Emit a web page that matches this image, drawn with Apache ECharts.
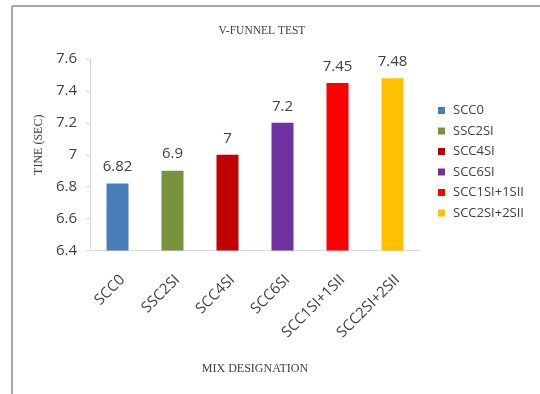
<!DOCTYPE html>
<html>
<head>
<meta charset="utf-8">
<script src="https://cdn.jsdelivr.net/npm/echarts@6/dist/echarts.min.js"></script>
<style>
  html, body { margin: 0; padding: 0; background: #fff; }
  #chart { width: 540px; height: 394px; }
</style>
</head>
<body>
<div id="chart"></div>
<script>
// V-funnel flow times per mix
const categories = ['SCC0', 'SSC2SI', 'SCC4SI', 'SCC6SI', 'SCC1SI+1SII', 'SCC2SI+2SII'];
const times = [6.82, 6.9, 7, 7.2, 7.45, 7.48];
const barColors = ['#4a7ebb', '#77933c', '#c00000', '#7030a0', '#ff0000', '#ffc000'];
const yTicks = { min: 6.4, max: 7.6, step: 0.2 };

const sansFont = '"Open Sans", "Liberation Sans", sans-serif';
const serifFont = '"Liberation Serif", "DejaVu Serif", serif';

// one series per mix so each gets its own legend entry; stacked so bars stay centred
const series = categories.map((name, i) => ({
  name: name,
  type: 'bar',
  stack: 'mix',
  barWidth: '40%',
  itemStyle: { color: barColors[i] },
  label: {
    show: true,
    position: 'top',
    distance: 9,
    color: '#404040',
    fontFamily: sansFont,
    fontSize: 15,
    formatter: p => String(p.value)
  },
  data: categories.map((c, j) => (j === i ? times[i] : null))
}));

const chart = echarts.init(document.getElementById('chart'));
chart.setOption({
  animation: false,
  backgroundColor: '#fff',
  title: {
    text: 'V-FUNNEL TEST',
    left: 257,
    top: 20,
    textAlign: 'center',
    textStyle: { fontFamily: serifFont, fontSize: 11.5, fontWeight: 'normal', color: '#404040' }
  },
  legend: {
    orient: 'vertical',
    left: 433,
    top: 99,
    itemWidth: 7,
    itemHeight: 7,
    itemGap: 7.5,
    icon: 'rect',
    textStyle: { fontFamily: sansFont, fontSize: 13, color: '#404040', padding: [0, 0, 0, 3] },
    data: categories
  },
  grid: { left: 90, right: 120, top: 59, bottom: 143.5, containLabel: false },
  xAxis: {
    type: 'category',
    data: categories,
    name: 'MIX DESIGNATION',
    nameLocation: 'middle',
    nameGap: 112,
    nameTextStyle: { fontFamily: serifFont, fontSize: 12, color: '#404040' },
    axisLine: { lineStyle: { color: '#d9d9d9', width: 1 } },
    axisTick: { show: false },
    axisLabel: {
      rotate: 45,
      margin: 22,
      fontFamily: sansFont,
      fontSize: 15,
      color: '#404040',
      interval: 0,
      // extra top room nudges the rotated text down-right off the axis
      formatter: v => '{l|' + v + '}',
      rich: { l: { fontFamily: sansFont, fontSize: 15, color: '#404040', padding: [14, 0, 0, 0] } }
    }
  },
  yAxis: {
    type: 'value',
    min: yTicks.min,
    max: yTicks.max,
    interval: yTicks.step,
    name: 'TINE (SEC)',
    nameLocation: 'middle',
    nameGap: 44,
    nameTextStyle: { fontFamily: serifFont, fontSize: 12, color: '#404040', padding: [0, 0, 0, 20] },
    axisLine: { show: true, lineStyle: { color: '#d9d9d9', width: 1 } },
    axisTick: { show: true, length: 4, lineStyle: { color: '#d9d9d9' } },
    splitLine: { show: false },
    axisLabel: {
      margin: 13,
      fontFamily: sansFont,
      fontSize: 15,
      color: '#404040',
      formatter: v => String(Math.round(v * 10) / 10)
    }
  },
  graphic: [
    { type: 'line', shape: { x1: 12, y1: 6, x2: 540, y2: 6 }, style: { stroke: '#a6a6a6', lineWidth: 2 } },
    { type: 'line', shape: { x1: 12, y1: 6, x2: 12, y2: 394 }, style: { stroke: '#a6a6a6', lineWidth: 2 } }
  ],
  series: series
});
</script>
</body>
</html>
